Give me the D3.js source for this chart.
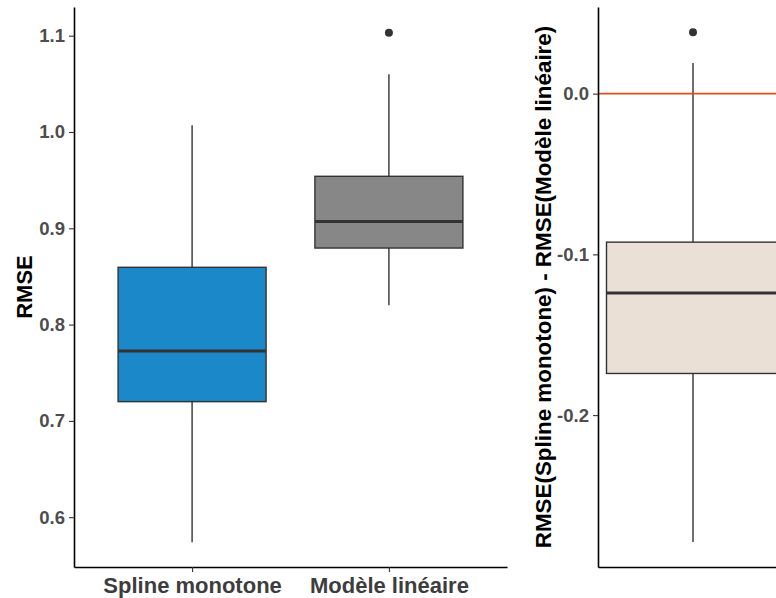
<!DOCTYPE html>
<html>
<head>
<meta charset="utf-8">
<script src="https://cdn.jsdelivr.net/npm/d3@7"></script>
<style>
  body { margin: 0; background: #fff; }
  svg { display: block; font-family: "Liberation Sans", Arial, sans-serif; }
</style>
</head>
<body>
<svg id="chart" width="776" height="598"></svg>
<script>
// Data ------------------------------------------------------------------------------------------
const models = ["Spline monotone", "Modèle linéaire"];
const modelColors = ["#1b88c9", "#878787"];
// [lower whisker, Q1, median, Q3, upper whisker]
const rmseStats = [
  [0.574, 0.720, 0.7726, 0.8595, 1.007],
  [0.820, 0.8795, 0.907, 0.954, 1.060]
];
const rmseOutliers = [[], [1.103]];
const rmseTicks = [0.6, 0.7, 0.8, 0.9, 1.0, 1.1];

const diffStats = [-0.279, -0.1741, -0.1241, -0.0924, 0.0191];
const diffOutliers = [0.0382];
const diffTicks = [-0.2, -0.1, 0.0];
const refLine = 0;

const svg = d3.select("#chart");
const plotTop = 7, plotBottom = 567;
const fontFamily = '"Liberation Sans", Arial, sans-serif';
const fmt = d => d.toFixed(1);

// Box drawing helper -----------------------------------------------------------------------------
const drawBox = (g, cx, w, s, outs, y, fill) => {
  g.append("line")
    .attr("x1", cx).attr("x2", cx)
    .attr("y1", y(s[0])).attr("y2", y(s[1]))
    .attr("stroke", "#333").attr("stroke-width", 1.4);
  g.append("line")
    .attr("x1", cx).attr("x2", cx)
    .attr("y1", y(s[3])).attr("y2", y(s[4]))
    .attr("stroke", "#333").attr("stroke-width", 1.4);
  g.append("rect")
    .attr("x", cx - w / 2).attr("width", w)
    .attr("y", y(s[3])).attr("height", y(s[1]) - y(s[3]))
    .attr("fill", fill).attr("stroke", "#333").attr("stroke-width", 1.4);
  g.append("line")
    .attr("x1", cx - w / 2).attr("x2", cx + w / 2)
    .attr("y1", y(s[2])).attr("y2", y(s[2]))
    .attr("stroke", "#333").attr("stroke-width", 3);
  outs.forEach(o => {
    g.append("circle").attr("cx", cx).attr("cy", y(o)).attr("r", 4).attr("fill", "#333");
  });
};

const styleAxis = (ax, size) => {
  ax.attr("font-family", fontFamily);
  ax.select(".domain").attr("stroke", "#000").attr("stroke-width", 1.6);
  ax.selectAll(".tick line").attr("stroke", "#333").attr("stroke-width", 1.1);
  ax.selectAll(".tick text")
    .attr("fill", "#4d4d4d")
    .style("font-size", size + "px")
    .style("font-weight", "bold");
};

// Left panel: RMSE -------------------------------------------------------------------------------
const leftX0 = 74, leftX1 = 507;
const xLeft = d3.scalePoint().domain(models).range([leftX0, leftX1]).padding(0.6);
const yLeft = d3.scaleLinear().domain([0.5483, 1.1298]).range([plotBottom, plotTop]);

const gLeft = svg.append("g");
models.forEach((m, i) => {
  drawBox(gLeft, xLeft(m), 148, rmseStats[i], rmseOutliers[i], yLeft, modelColors[i]);
});

const axLeftY = gLeft.append("g")
  .attr("transform", `translate(${leftX0},0)`)
  .call(d3.axisLeft(yLeft).tickValues(rmseTicks).tickFormat(fmt).tickSize(5).tickSizeOuter(0).tickPadding(4));
styleAxis(axLeftY, 18.5);

const axLeftX = gLeft.append("g")
  .attr("transform", `translate(0,${plotBottom})`)
  .call(d3.axisBottom(xLeft).tickSize(5).tickSizeOuter(0).tickPadding(5));
styleAxis(axLeftX, 22);
axLeftX.selectAll(".tick text").attr("fill", "#3d3d3d");

gLeft.append("text")
  .attr("transform", `translate(32,${(plotTop + plotBottom) / 2}) rotate(-90)`)
  .attr("text-anchor", "middle")
  .style("font-size", "22px").style("font-weight", "bold")
  .text("RMSE");

// Right panel: difference ------------------------------------------------------------------------
const rightX0 = 598, rightX1 = 788;
const xRight = d3.scalePoint().domain(["diff"]).range([rightX0, rightX1]).padding(0.5);
const yRight = d3.scaleLinear().domain([-0.2945, 0.0539]).range([plotBottom, plotTop]);

const gRight = svg.append("g");
drawBox(gRight, xRight("diff"), 173, diffStats, diffOutliers, yRight, "#ebe0d6");

gRight.append("line")
  .attr("x1", rightX0).attr("x2", rightX1)
  .attr("y1", yRight(refLine)).attr("y2", yRight(refLine))
  .attr("stroke", "#e0501a").attr("stroke-width", 1.8);

const axRightY = gRight.append("g")
  .attr("transform", `translate(${rightX0},0)`)
  .call(d3.axisLeft(yRight).tickValues(diffTicks).tickFormat(fmt).tickSize(5).tickSizeOuter(0).tickPadding(4));
styleAxis(axRightY, 18.5);

const axRightX = gRight.append("g")
  .attr("transform", `translate(0,${plotBottom})`)
  .call(d3.axisBottom(xRight).tickSize(0).tickSizeOuter(0).tickFormat(""));
styleAxis(axRightX, 15);

gRight.append("text")
  .attr("transform", `translate(551,${(plotTop + plotBottom) / 2}) rotate(-90)`)
  .attr("text-anchor", "middle")
  .style("font-size", "22.4px").style("font-weight", "bold")
  .text("RMSE(Spline monotone) - RMSE(Modèle linéaire)");
</script>
</body>
</html>
